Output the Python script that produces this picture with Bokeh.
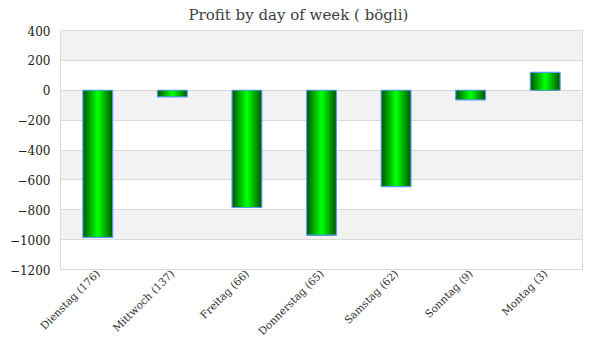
from bokeh.plotting import figure
from bokeh.models import FixedTicker, ColumnDataSource
from bokeh.embed import file_html
from bokeh.resources import INLINE
import math

days = ["Dienstag (176)", "Mittwoch (137)", "Freitag (66)", "Donnerstag (65)",
        "Samstag (62)", "Sonntag (9)", "Montag (3)"]
profit = [-985, -45, -785, -970, -645, -65, 120]
y_ticks = [-1200, -1000, -800, -600, -400, -200, 0, 200, 400]
y_min, y_max = -1200, 400

FONT = "DejaVu Serif"

src = ColumnDataSource(dict(day=days, profit=profit))

p = figure(x_range=days, y_range=(y_min, y_max), width=584, height=344,
           output_backend="svg", toolbar_location=None,
           title="Profit by day of week  ( bögli)",
           min_border_left=60, min_border_right=2, min_border_bottom=74, min_border_top=20)

p.title.align = "left"
p.title.offset = 128
p.title.text_font = FONT
p.title.text_font_size = "15px"
p.title.text_font_style = "normal"
p.title.text_color = "#404040"
p.title.standoff = 10
p.title.vertical_align = "top"

# gradient-like bars: nested bars, dark edges to bright centre
n = 14
for i in range(n):
    t = i / (n - 1)
    g = int(0x5a + (0xff - 0x5a) * t)
    color = "#00%02x00" % g
    w = 0.4 * (1 - i / n)
    p.vbar(x="day", top="profit", bottom=0, width=w, source=src,
           fill_color=color, line_color=None)
p.vbar(x="day", top="profit", bottom=0, width=0.4, source=src,
       fill_color=None, line_color="#5a9cf0", line_width=1.2)

p.yaxis.ticker = FixedTicker(ticks=y_ticks)
p.ygrid.ticker = FixedTicker(ticks=y_ticks)
p.ygrid.grid_line_color = "#d9d9d9"
p.ygrid.band_fill_color = "#f2f2f2"
p.ygrid.band_fill_alpha = 1.0
p.xgrid.grid_line_color = None

p.outline_line_color = "#d9d9d9"
for ax in (p.xaxis, p.yaxis):
    ax.axis_line_color = None
    ax.major_tick_line_color = None
    ax.minor_tick_line_color = None
    ax.major_tick_out = 0
    ax.major_tick_in = 0
    ax.minor_tick_out = 0
    ax.minor_tick_in = 0
    ax.major_label_text_font = FONT
    ax.major_label_text_color = "#222222"
p.yaxis.major_label_text_font_size = "12px"
p.yaxis.major_label_standoff = 10

p.xaxis.major_label_text_font_size = "10.5px"
p.xaxis.major_label_text_color = "#333333"
p.xaxis.major_label_orientation = math.pi / 4
p.xaxis.major_label_standoff = 2

p.background_fill_color = "white"
p.border_fill_color = "white"

open("out.html", "w").write(file_html(p, INLINE))
